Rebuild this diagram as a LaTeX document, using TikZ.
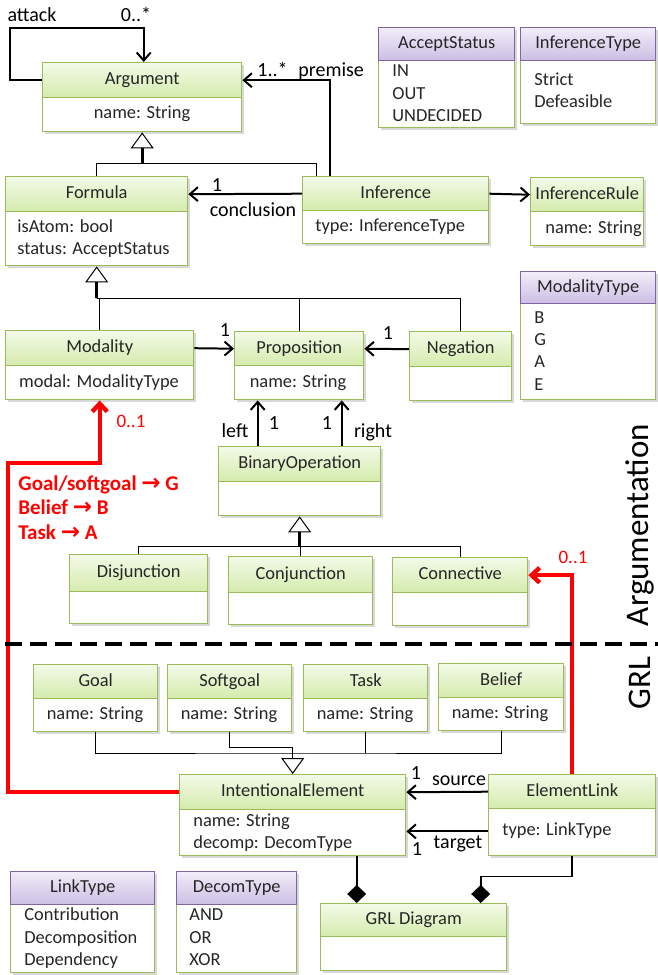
\documentclass[tikz,border=0pt]{standalone}
\usepackage{fontspec}
\setmainfont{Carlito}
\newfontfamily\djv{DejaVu Sans}
\usetikzlibrary{arrows.meta,shadows}
\definecolor{bdg}{RGB}{155,187,89}
\definecolor{hdg}{RGB}{155,187,89}
\definecolor{htg}{RGB}{243,250,232}
\definecolor{hbg}{RGB}{212,235,172}
\definecolor{bdp}{RGB}{155,187,89}
\definecolor{hdp}{RGB}{128,100,162}
\definecolor{htp}{RGB}{241,237,249}
\definecolor{hbp}{RGB}{204,190,228}
\definecolor{txt}{RGB}{38,38,38}
\definecolor{redc}{RGB}{255,0,0}
\tikzset{
 boxbody/.style={fill=white, line width=0.7pt, inner sep=0pt, drop shadow={shadow xshift=1pt, shadow yshift=-1pt, opacity=0.3}},
 boxhead/.style={line width=0.7pt, inner sep=0pt, font=\fontsize{9.2}{11}\selectfont, text=txt, text height=6.5pt, text depth=2pt},
 bt/.style={inner sep=0pt, font=\fontsize{9.2}{11}\selectfont, text=txt, text height=6.5pt, text depth=2pt},
 lab/.style={inner sep=0pt, font=\fontsize{10}{12}\selectfont, text height=7pt, text depth=2pt},
 redlab/.style={lab, text=redc, font=\fontsize{9.5}{12}\selectfont},
 redtxt/.style={inner sep=0pt, text=redc, font=\fontsize{10.5}{12}\selectfont\bfseries, text height=7pt, text depth=2pt},
 conn/.style={line width=1pt, -{Straight Barb[length=4pt,width=7pt]}},
 genl/.style={line width=0.5pt},
 gentri/.style={line width=1.3pt, -{Triangle[open,length=8pt,width=11.5pt,line width=0.5pt,fill=white]}},
 gentrithin/.style={line width=0.5pt, -{Triangle[open,length=8pt,width=11.5pt,line width=0.5pt,fill=white]}},
 comp/.style={line width=0.8pt, -{Diamond[length=9pt,width=9.5pt]}},
 redl/.style={redc, line width=2.2pt, -{Straight Barb[length=4pt,width=7.5pt]}},
 bigtxt/.style={inner sep=0pt, rotate=90, font=\fontsize{16.5}{18}\selectfont},
}
\newcommand\redarrow{{\djv\bfseries\fontsize{11.5}{12}\selectfont →}}
% kind, name, x1, y1, x2, ydiv, y2, title
\newcommand\umlbox[8]{%
 \node[boxbody, draw=bd#1, anchor=north west, minimum width={(#5-#3)*0.5pt}, minimum height={(#7-#4)*0.5pt}] (#2) at (#3,#4) {};
 \node[boxhead, draw=hd#1, top color=ht#1, bottom color=hb#1, anchor=north west, minimum width={(#5-#3)*0.5pt}, minimum height={(#6-#4)*0.5pt}] (#2-h) at (#3,#4) {#8};
}
\begin{document}
\begin{tikzpicture}[x=0.5pt,y=-0.5pt]
\useasboundingbox (0,0) rectangle (658,975);
\fill[white] (0,0) rectangle (658,975);

% ---------- boxes ----------
\umlbox{g}{arg}{42}{62}{241}{97}{131}{Argument}
\umlbox{g}{form}{5}{176}{187}{211}{265}{Formula}
\umlbox{g}{inf}{302}{176}{488}{210}{243}{Inference}
\umlbox{g}{rule}{530}{177}{643}{211}{245}{InferenceRule}
\umlbox{p}{accs}{378}{27}{514}{60}{127}{AcceptStatus}
\umlbox{p}{inft}{520}{27}{655}{60}{123}{InferenceType}
\umlbox{p}{modt}{520}{271}{655}{303}{399}{ModalityType}
\umlbox{g}{mod}{5}{330}{193}{365}{399}{Modality}
\umlbox{g}{prop}{234}{331}{363}{365}{399}{Proposition}
\umlbox{g}{neg}{409}{331}{511}{366}{400}{Negation}
\umlbox{g}{bin}{218}{446}{380}{481}{515}{BinaryOperation}
\umlbox{g}{disj}{69}{554}{207}{591}{623}{Disjunction}
\umlbox{g}{conj}{228}{556}{372}{592}{624}{Conjunction}
\umlbox{g}{conn}{392}{557}{527}{592}{625}{Connective}
\umlbox{g}{goal}{33}{664}{157}{698}{731}{Goal}
\umlbox{g}{soft}{167}{664}{291}{698}{731}{Softgoal}
\umlbox{g}{task}{303}{664}{427}{698}{731}{Task}
\umlbox{g}{bel}{438}{663}{563}{697}{730}{Belief}
\umlbox{g}{ie}{179}{774}{405}{809}{855}{IntentionalElement}
\umlbox{g}{el}{488}{774}{655}{808}{855}{ElementLink}
\umlbox{g}{grl}{320}{903}{506}{936}{970}{GRL Diagram}
\umlbox{p}{lnk}{10}{871}{154}{904}{972}{LinkType}
\umlbox{p}{dec}{176}{871}{296}{904}{972}{DecomType}

% ---------- body texts ----------
\node[bt] (arg-b) at (142,114) {name: String};
\node[bt, anchor=west] (form-b1) at (17,228) {isAtom: bool};
\node[bt, anchor=west] (form-b2) at (17,250) {status: AcceptStatus};
\node[bt, anchor=west] (inf-b) at (315,227) {type: InferenceType};
\node[bt, anchor=west] (rule-b) at (545,229) {name: String};
\node[bt, anchor=west] (accs-b1) at (392,72) {IN};
\node[bt, anchor=west] (accs-b2) at (392,95) {OUT};
\node[bt, anchor=west] (accs-b3) at (392,117) {UNDECIDED};
\node[bt, anchor=west] (inft-b1) at (534,81) {Strict};
\node[bt, anchor=west] (inft-b2) at (534,103) {Defeasible};
\node[bt, anchor=west] (modt-b1) at (534,319) {B};
\node[bt, anchor=west] (modt-b2) at (534,341) {G};
\node[bt, anchor=west] (modt-b3) at (534,363) {A};
\node[bt, anchor=west] (modt-b4) at (534,386) {E};
\node[bt] (mod-b) at (99,383) {modal: ModalityType};
\node[bt] (prop-b) at (298,383) {name: String};
\node[bt] (goal-b) at (95,715) {name: String};
\node[bt] (soft-b) at (229,715) {name: String};
\node[bt] (task-b) at (365,715) {name: String};
\node[bt] (bel-b) at (500,714) {name: String};
\node[bt, anchor=west] (ie-b1) at (193,822) {name: String};
\node[bt, anchor=west] (ie-b2) at (193,844) {decomp: DecomType};
\node[bt, anchor=west] (el-b) at (502,831) {type: LinkType};
\node[bt, anchor=west] (lnk-b1) at (24,916) {Contribution};
\node[bt, anchor=west] (lnk-b2) at (24,939) {Decomposition};
\node[bt, anchor=west] (lnk-b3) at (24,961) {Dependency};
\node[bt, anchor=west] (dec-b1) at (189,916) {AND};
\node[bt, anchor=west] (dec-b2) at (189,939) {OR};
\node[bt, anchor=west] (dec-b3) at (189,961) {XOR};

% ---------- connectors ----------
% attack self-association
\coordinate (argtop) at ([xshift=0.75pt]arg.north);
\draw[conn] (arg-h.west) -| (10,28) -| (argtop);
% premise
\coordinate (infp) at ([xshift=14pt]inf.north west);
\draw[conn] (infp) |- (arg-h.east);
% generalization to Argument
\coordinate (g1) at ([yshift=-15.5pt]arg.south);
\coordinate (infg) at ([xshift=7pt]inf.north west);
\draw[genl] (form.north) |- (g1) -| (infg);
\draw[gentri] (g1) -- (arg.south);
% conclusion, rule
\draw[conn] (inf-h.west) -- (form-h.east);
\draw[conn] (inf-h.east) -- (rule-h.west);
% generalization to Formula
\coordinate (g2) at ([yshift=-16pt]form.south);
\draw[genl] (mod.north) |- (g2) -| (neg.north);
\draw[genl] (prop.north) -- (prop.north |- g2);
\draw[gentri] (g2) -- (form.south);
% modality / negation -> proposition
\draw[conn] (mod-h.east) -- (prop-h.west);
\draw[conn] (neg-h.west) -- (prop-h.east);
% left / right
\coordinate (bl) at ([xshift=-21pt]bin.north);
\coordinate (br) at ([xshift=21pt]bin.north);
\draw[conn] (bl) -- (bl |- prop.south);
\draw[conn] (br) -- (br |- prop.south);
% generalization to BinaryOperation
\coordinate (g3) at ([yshift=-15pt]bin.south);
\draw[genl] (disj.north) |- (g3) -| (conn.north);
\draw[genl] (conj.north) -- (conj.north |- g3);
\draw[gentri] (g3) -- (bin.south);
% generalization to IntentionalElement
\coordinate (g4) at ([yshift=10.5pt]ie.north);
\coordinate (g4s) at ([yshift=13.5pt]ie.north);
\draw[genl] (goal.south) |- (g4) -| (bel.south);
\draw[genl] (task.south) -- (task.south |- g4);
\draw[genl] (soft.south) |- (g4s) -- (g4);
\draw[gentrithin] (g4) -- (ie.north);
% source / target
\draw[conn] (el-h.west) -- (ie-h.east);
\coordinate (elt) at ([yshift=12.5pt]el.south west);
\coordinate (iet) at ([yshift=12.5pt]ie.south east);
\draw[conn] (elt) -- (iet);
% compositions
\coordinate (iec) at ([xshift=32pt]ie.south);
\draw[comp] (iec) -- (iec |- grl.north);
\coordinate (grlc) at ([xshift=33.5pt]grl.north);
\draw[comp] (el.south) -- ++(0,20) -| (grlc);
% red mappings
\draw[redl] (ie-h.west) -| (8,463) -| (mod.south);
\draw[redl] (el.north) |- (conn-h.east);

% separator
\draw[line width=2pt, dash pattern=on 8.5pt off 4pt] (5,644) -- (658,644);

% ---------- labels ----------
\node[lab] (l-attack) at (32,16) {attack};
\node[lab] (l-att-m) at (136,16) {0..*};
\node[lab, anchor=base west] (l-prem-m) at (257,76) {1..*};
\node[lab, anchor=base west] (l-prem) at (298,76) {premise};
\node[lab] (l-conc-m) at (217,186) {1};
\node[lab] (l-conc) at (253,211) {conclusion};
\node[lab] (l-mod-m) at (225,331) {1};
\node[lab] (l-neg-m) at (388,334) {1};
\node[lab] (l-left) at (235,432) {left};
\node[lab] (l-left-m) at (274,424) {1};
\node[lab] (l-right-m) at (327,424) {1};
\node[lab] (l-right) at (373,432) {right};
\node[lab] (l-src-m) at (416,774) {1};
\node[lab] (l-src) at (459,780) {source};
\node[lab] (l-tgt-m) at (417,850) {1};
\node[lab] (l-tgt) at (458,843) {target};
\node[redlab] (l-r1) at (131,422) {0..1};
\node[redlab] (l-r2) at (573,558) {0..1};
\node[redtxt, anchor=west] (rt1) at (18,485) {Goal/softgoal \redarrow{} G};
\node[redtxt, anchor=west] (rt2) at (18,509) {Belief \redarrow{} B};
\node[redtxt, anchor=west] (rt3) at (18,534) {Task \redarrow{} A};
\node[bigtxt] (t-arg) at (640,525) {Argumentation};
\node[bigtxt] (t-grl) at (640,683) {GRL};
\end{tikzpicture}
\end{document}
